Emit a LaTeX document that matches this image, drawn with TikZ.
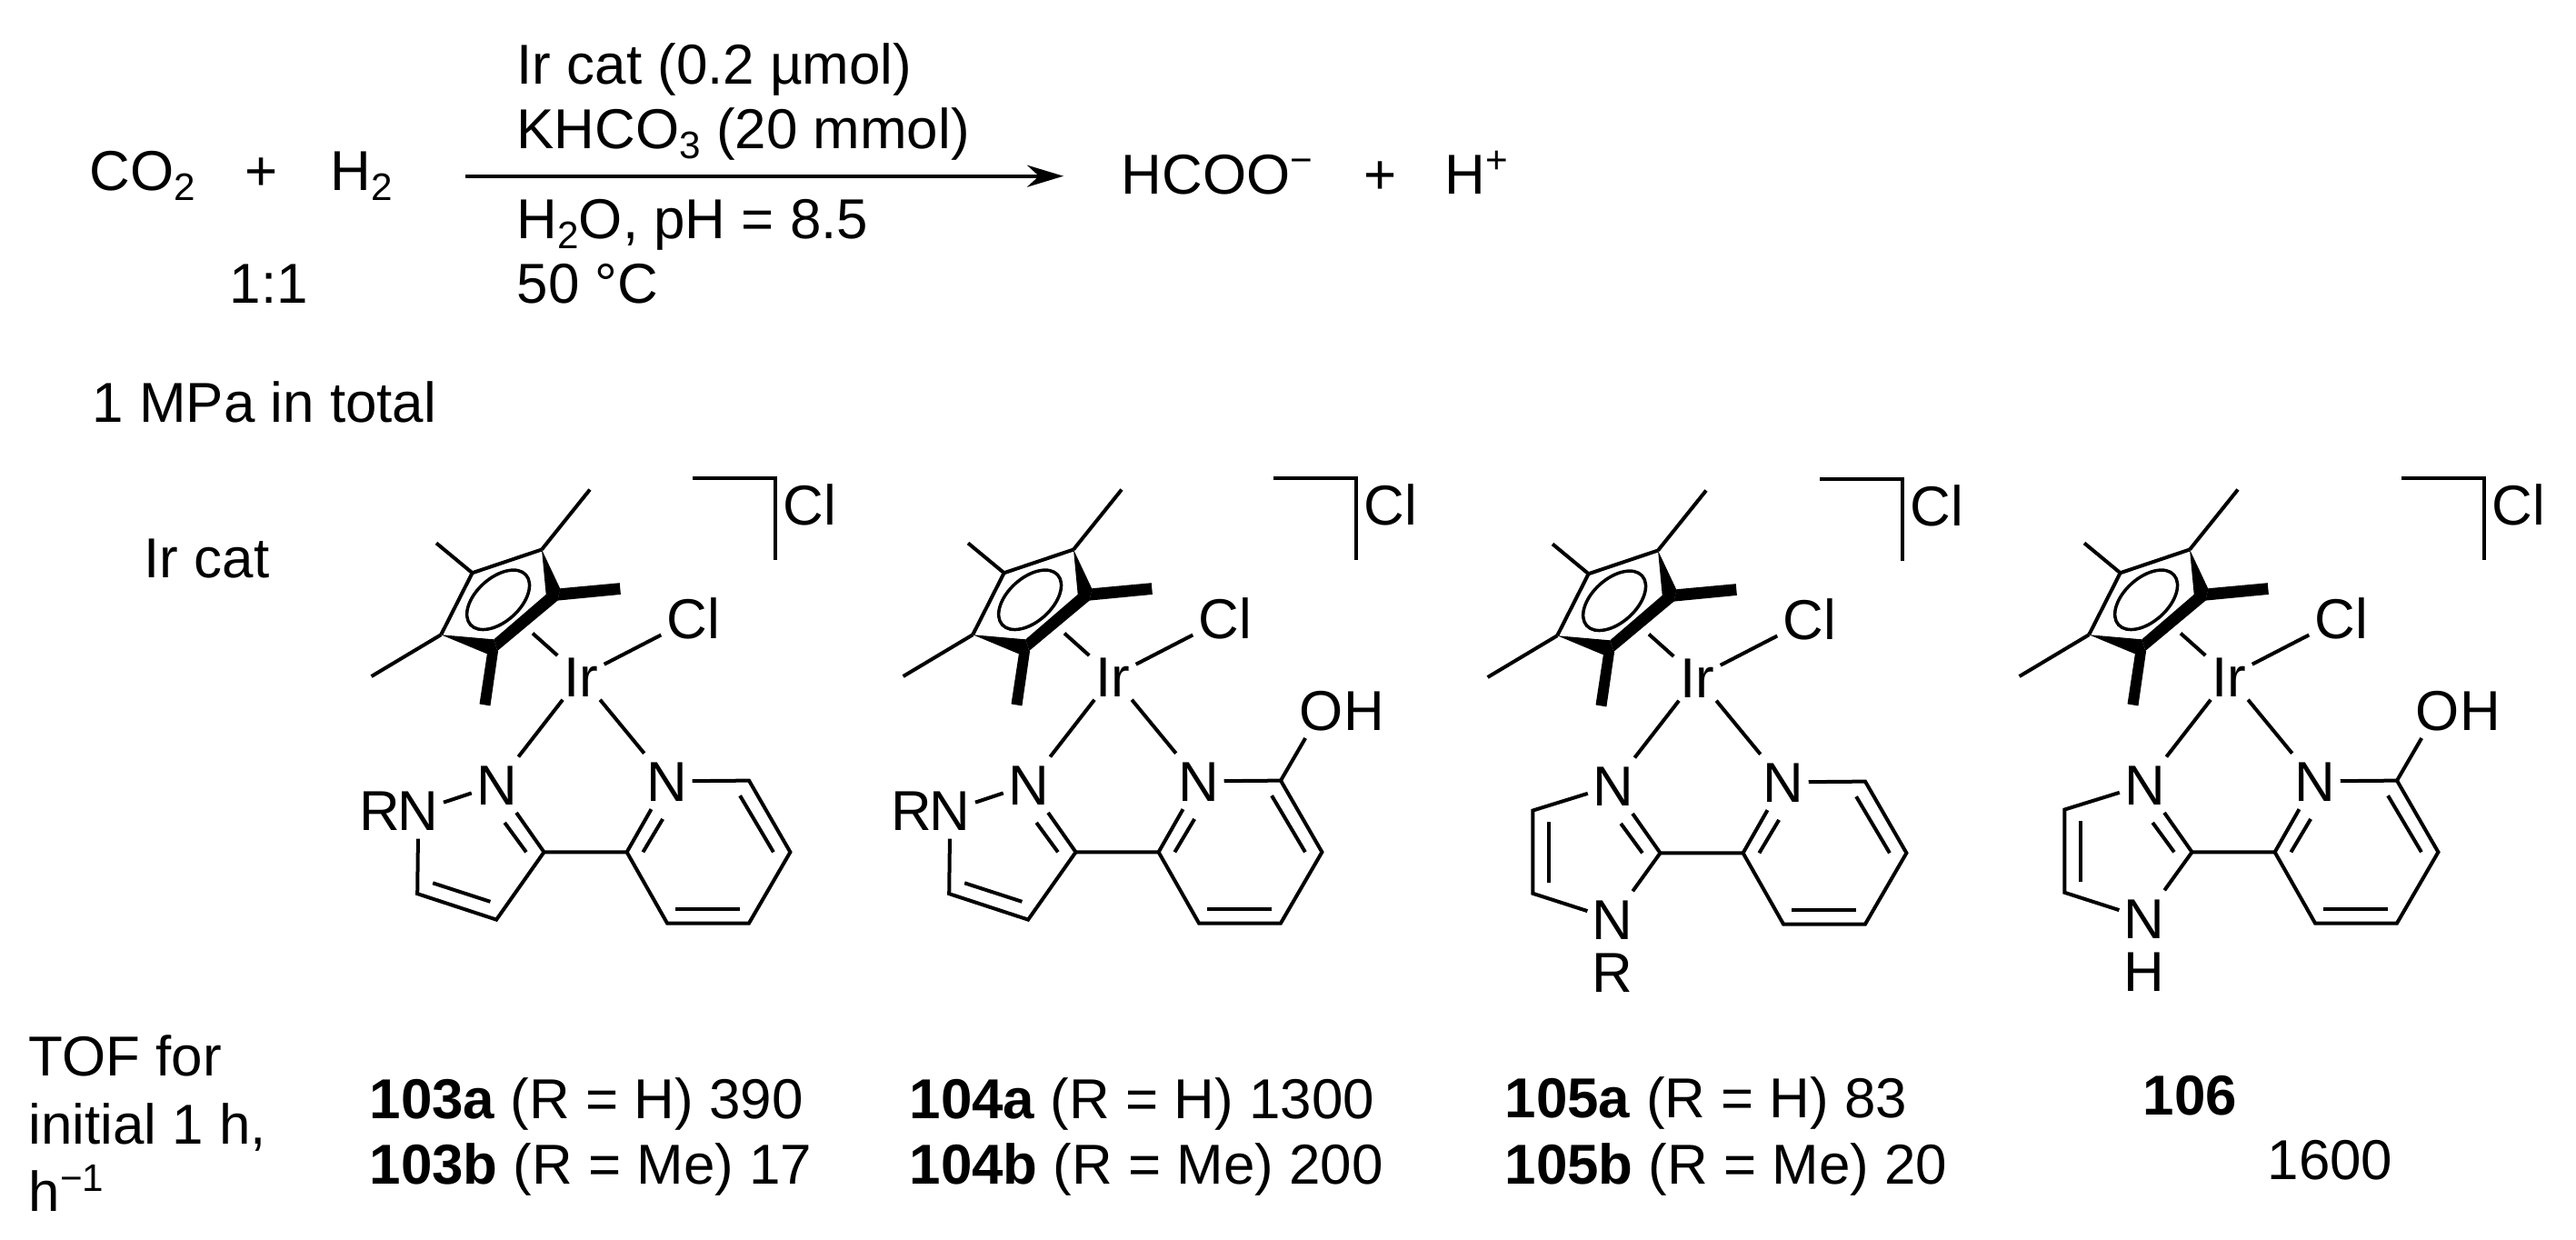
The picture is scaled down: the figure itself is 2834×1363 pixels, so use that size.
\documentclass[tikz,border=0pt]{standalone}
\usepackage{fontspec}
\setmainfont{Liberation Sans}
\usetikzlibrary{arrows.meta}
\newcommand{\chemfont}{\fontsize{17.6}{20}\selectfont}
\newcommand{\smallfont}{\fontsize{12}{14}\selectfont}
\newcommand{\subt}[1]{\raisebox{-0.11cm}{\smallfont #1}}
\newcommand{\supt}[1]{\raisebox{0.22cm}{\smallfont #1}}
\tikzstyle{every node} = [font=\chemfont]
\tikzstyle{txt} = [anchor=base west, inner sep=0pt]
\tikzstyle{atom} = [inner sep=0pt, text height=0.44cm, text depth=0pt, minimum width=0.54cm, minimum height=0.6cm]
\tikzstyle{irnode} = [atom, minimum width=0.5cm, minimum height=0.5cm]
\tikzstyle{clnode} = [atom, minimum width=0.7cm]
\tikzstyle{line} = [draw, line width=0.04cm]
\tikzstyle{wedge} = [fill=black]
% Cp*, Ir, Cl and the bracket: #1 = left end of the bracket
\newcommand{\irhead}[1]{
	\node [irnode] (ir) at (0,0) {Ir};
	\node [clnode] (cl) at (124,-64) {Cl};
	\node [clnode] (clout) at (#1+129,-189) {Cl};
	\coordinate (ca) at (-43,-139.5);
	\coordinate (cb) at (-119.4,-113.8);
	\coordinate (cc) at (-153.8,-45.8);
	\coordinate (ma) at (10,-205.5);
	\coordinate (mb) at (-159,-146.6);
	\coordinate (mc) at (-230.4,0);
	\coordinate (ringc) at (-53,-47.4);
	\coordinate (bra) at (#1,-218);
	\coordinate (brb) at (#1+91,-218);
	\coordinate (brc) at (#1+91,-127.7);
	\path [line] (ca) -- (cb) -- (cc);
	\path [line] (ca) -- (ma);
	\path [line] (cb) -- (mb);
	\path [line] (cc) -- (mc);
	\fill [wedge] (ca) -- (-22.5,-96) -- (-25.7,-83.4) -- (-38.3,-90.1) -- cycle;
	\fill [wedge] (cc) -- (-103.6,-24.9) -- (-91.7,-28.1) -- (-95.7,-40.7) -- cycle;
	\fill [wedge] (-95.7,-40.7) -- (-38.3,-90.1) -- (-24.5,-84.2) -- (-91.7,-28.1) -- cycle;
	\fill [wedge] (-22.5,-96.8) -- (42.7,-102.8) -- (43.9,-90.1) -- (-25.7,-83.4) -- cycle;
	\fill [wedge] (-102.8,-26.9) -- (-90.9,-28.1) -- (-99.6,32.4) -- (-111.5,30.4) -- cycle;
	\draw [line width=0.035cm, rotate around={42:(-90.9,-84.2)}] (-90.9,-84.2) ellipse [x radius=41, y radius=24];
	\path [line] (ringc) -- (ir);
	\path [line] (ir) -- (cl);
	\path [line] (bra) -- (brb) -- (brc);
}
% the six-membered ring, with its N bound to Ir
\newcommand{\pyring}{
	\node [atom] (npy) at (95,115.4) {N};
	\coordinate (pb) at (50.6,193.3);
	\coordinate (pc) at (95,271.5);
	\coordinate (pd) at (185,271.5);
	\coordinate (pe) at (230.4,193.3);
	\coordinate (pf) at (185,114.6);
	\path [line] (ir) -- (npy);
	\path [line] (npy) -- (pb) -- (pc) -- (pd) -- (pe) -- (pf) -- (npy);
	\path [line] (90.1,156.9) -- (68.4,193.3);
	\path [line] (175.1,131.2) -- (211.9,193.3);
	\path [line] (175.1,255.7) -- (104,255.7);
}
\newcommand{\ohgroup}{
	\node [atom] (oh) at (230,37.2) {O};
	\node [atom] (hoh) at (277,37.2) {H};
	\path [line] (pf) -- (oh);
}
% N bound to Ir, the C joined to the six-membered ring, and their double bond
\newcommand{\fivebase}{
	\node [atom] (nfv) at (-92.5,119.2) {N};
	\coordinate (fc) at (-40.5,193.3);
	\path [line] (ir) -- (nfv);
	\path [line] (nfv) -- (fc) -- (pb);
	\path [line] (-83.8,160.9) -- (-60.1,193.3);
}
\newcommand{\pyrazole}{
	\fivebase
	\node [atom] (nr) at (-178.7,147.8) {N};
	\node [atom] (rr) at (-221.1,147.8) {R};
	\coordinate (fd) at (-92.9,267.6);
	\coordinate (fe) at (-179.8,239.1);
	\path [line] (nr) -- (nfv);
	\path [line] (fc) -- (fd) -- (fe) -- (nr);
	\path [line] (-99.6,247.8) -- (-162.8,227.3);
}
% #1 = the group under the second N
\newcommand{\imidazole}[1]{
	\fivebase
	\node [atom] (nsec) at (-92.9,266) {N};
	\node [atom] (sub) at (-92.9,324) {#1};
	\coordinate (fd) at (-180.6,237.8);
	\coordinate (fe) at (-180.6,146.5);
	\path [line] (fc) -- (nsec) -- (fd) -- (fe) -- (nfv);
	\path [line] (-163.2,159.1) -- (-163.2,226);
}
\begin{document}
\begin{tikzpicture}[x=0.01cm, y=-0.01cm]
	\useasboundingbox (0,0) rectangle (2834,1363);
	
	\node [txt] (co2) at (98,209) {CO\subt{2}};
	\node [txt] (plusa) at (269,209) {+};
	\node [txt] (h2) at (363,209) {H\subt{2}};
	\node [txt] (ratio) at (252,333) {1:1};
	\node [txt] (total) at (101,464) {1 MPa in total};
	\node [txt] (cata) at (568,92) {Ir cat (0.2 µmol)};
	\node [txt] (catb) at (568,163) {KHCO\subt{3} (20 mmol)};
	\node [txt] (conda) at (568,262) {H\subt{2}O, pH = 8.5};
	\node [txt] (condb) at (568,333) {50 °C};
	\node [txt] (hcoo) at (1233,213) {HCOO\supt{−}};
	\node [txt] (plusb) at (1500,213) {+};
	\node [txt] (proton) at (1589,213) {H\supt{+}};
	\node [txt] (ircat) at (158,635) {Ir cat};
	
	\coordinate (arrowa) at (512,193.7);
	\coordinate (arrowb) at (1170,193.7);
	\path [line, -{Stealth[length=0.4cm, width=0.24cm]}] (arrowa) -- (arrowb);
	
	\begin{scope}[shift={(639,744)}, name prefix=cata-]
		\irhead{123}
		\pyring
		\pyrazole
	\end{scope}
	\begin{scope}[shift={(1224,744)}, name prefix=catb-]
		\irhead{177}
		\pyring
		\ohgroup
		\pyrazole
	\end{scope}
	\begin{scope}[shift={(1867,745)}, name prefix=catc-]
		\irhead{135}
		\pyring
		\imidazole{R}
	\end{scope}
	\begin{scope}[shift={(2452,744)}, name prefix=catd-]
		\irhead{190}
		\pyring
		\ohgroup
		\imidazole{H}
	\end{scope}
	
	\node [txt] (tofa) at (31,1183) {TOF for};
	\node [txt] (tofb) at (31,1258) {initial 1 h,};
	\node [txt] (tofc) at (31,1332) {h\supt{−1}};
	\node [txt] (lba) at (406,1230) {\textbf{103a} (R = H) 390};
	\node [txt] (lbb) at (406,1302) {\textbf{103b} (R = Me) 17};
	\node [txt] (lca) at (1000,1230) {\textbf{104a} (R = H) 1300};
	\node [txt] (lcb) at (1000,1302) {\textbf{104b} (R = Me) 200};
	\node [txt] (lda) at (1655,1229) {\textbf{105a} (R = H) 83};
	\node [txt] (ldb) at (1655,1302) {\textbf{105b} (R = Me) 20};
	\node [txt] (lea) at (2357,1226) {\textbf{106}};
	\node [txt] (leb) at (2494,1297) {1600};
\end{tikzpicture}
\end{document}
